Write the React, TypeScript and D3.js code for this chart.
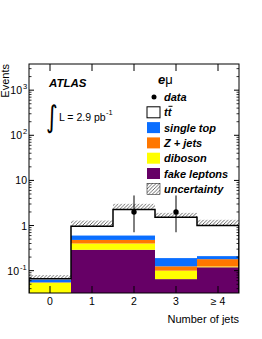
import * as d3 from "d3";
import React from "react";

// jet multiplicity bins
const categories = ["0", "1", "2", "3", "≥ 4"];

// stacked expectations, bottom to top
const fakeLeptons = [0, 0.29, 0.29, 0.065, 0.119];
const diboson = [0.054, 0.11, 0.11, 0.035, 0.005];
const zJets = [0.001, 0.08, 0.08, 0.025, 0.056];
const singleTop = [0.008, 0.12, 0.12, 0.065, 0.03];
const ttbar = [0.003, 0.36, 1.67, 1.34, 0.79];
const uncertainty = [0.014, 0.33, 0.76, 0.38, 0.34];

// observed events and error bar ends
const dataCounts = [0, 0, 2, 2, 0];
const dataLow = [0, 0, 0.71, 0.71, 0];
const dataHigh = [0, 0, 4.64, 4.64, 0];

const yTicks = [0.1, 1, 10, 100, 1000];
const yTickLabels = [["10", "-1"], ["1", ""], ["10", ""], ["10", "2"], ["10", "3"]];

const colors = {
  fake: "#660066",
  diboson: "#ffff00",
  zjets: "#ff7700",
  single: "#0a6eff",
};

const legendItems = [
  { key: "data", label: "data" },
  { key: "tt", label: "tt" },
  { key: "single", label: "single top" },
  { key: "zjets", label: "Z + jets" },
  { key: "diboson", label: "diboson" },
  { key: "fake", label: "fake leptons" },
  { key: "unc", label: "uncertainty" },
];

const W = 262;
const H = 339;
const margin = { top: 64, left: 29, bottom: 46, right: 23 };
const font = "'Liberation Sans', Arial, Helvetica, sans-serif";

export default function App() {
  const x = d3.scaleLinear().domain([-0.5, 4.5]).range([margin.left, W - margin.right]);
  const y = d3.scaleLog().domain([0.032, 3800]).range([H - margin.bottom, margin.top]);
  const bottom = H - margin.bottom;
  const top = margin.top;
  const left = margin.left;
  const right = W - margin.right;

  const layers = [
    { key: "fake", vals: fakeLeptons },
    { key: "diboson", vals: diboson },
    { key: "zjets", vals: zJets },
    { key: "single", vals: singleTop },
  ];
  const cum: number[][] = [];
  let run = categories.map(() => 0);
  layers.forEach((l) => {
    run = run.map((v, i) => v + l.vals[i]);
    cum.push(run.slice());
  });
  const total = run.map((v, i) => v + ttbar[i]);

  const yc = (v: number) => (v <= 0 ? bottom : Math.min(bottom, y(v)));

  const stepPts: [number, number][] = [];
  categories.forEach((_, i) => {
    stepPts.push([x(i - 0.5), yc(total[i])]);
    stepPts.push([x(i + 0.5), yc(total[i])]);
  });
  const step = d3.line()(stepPts) as string;
  const ttArea = `M${x(-0.5)},${bottom}L${step.slice(1)}L${x(4.5)},${bottom}Z`;

  const minor: number[] = [];
  for (let e = -2; e <= 3; e++) for (let k = 2; k <= 9; k++) {
    const v = k * Math.pow(10, e);
    if (v > 0.032 && v < 3800) minor.push(v);
  }

  const legX = 147;
  const legY0 = 97;
  const legDy = 15.3;

  return (
    <svg width={W} height={H} style={{ position: "absolute", left: 0, top: 0, background: "#fff" }} fontFamily={font}>
      <defs>
        <pattern id="hatch" patternUnits="userSpaceOnUse" width="3.5" height="3.5">
          <path d="M-1,1 l2,-2 M0,3.5 l3.5,-3.5 M2.5,4.5 l2,-2" stroke="#444" strokeWidth="0.8" />
        </pattern>
        <clipPath id="frame"><rect x={left} y={top} width={right - left} height={bottom - top} /></clipPath>
      </defs>

      <g clipPath="url(#frame)">
        <path d={ttArea} fill="#fff" />
        {layers.map((l, li) => (
          <g key={l.key}>
            {categories.map((c, i) => {
              const lo = li === 0 ? 0 : cum[li - 1][i];
              const hi = cum[li][i];
              if (hi <= lo) return null;
              return (
                <rect key={c} x={x(i - 0.5)} width={x(i + 0.5) - x(i - 0.5)}
                  y={yc(hi)} height={yc(lo) - yc(hi)} fill={(colors as any)[l.key]} />
              );
            })}
          </g>
        ))}
        {categories.map((c, i) => (
          <rect key={c} x={x(i - 0.5)} width={x(i + 0.5) - x(i - 0.5)}
            y={yc(total[i] + uncertainty[i])} height={yc(total[i]) - yc(total[i] + uncertainty[i])}
            fill="url(#hatch)" />
        ))}
        <path d={`M${x(-0.5)},${bottom}L${step.slice(1)}L${x(4.5)},${bottom}`} fill="none" stroke="#000" strokeWidth="1.5" />
      </g>

      {/* data */}
      {dataCounts.map((n, i) => n > 0 ? (
        <g key={i}>
          <line x1={x(i)} x2={x(i)} y1={y(dataHigh[i])} y2={y(dataLow[i])} stroke="#000" strokeWidth="1" />
          <circle cx={x(i)} cy={y(n)} r="2.7" fill="#000" />
        </g>
      ) : null)}

      {/* frame and ticks */}
      <rect x={left} y={top} width={right - left} height={bottom - top} fill="none" stroke="#000" strokeWidth="1" />
      {categories.map((c, i) => (
        <g key={c}>
          <line x1={x(i)} x2={x(i)} y1={bottom} y2={bottom - 7} stroke="#000" />
          <line x1={x(i)} x2={x(i)} y1={top} y2={top + 7} stroke="#000" />
          <text x={x(i)} y={305} textAnchor="middle" fontSize="10.5">{c}</text>
        </g>
      ))}
      {yTicks.map((t, i) => (
        <g key={t}>
          <line x1={left} x2={left + 5} y1={y(t)} y2={y(t)} stroke="#000" />
          <line x1={right} x2={right - 5} y1={y(t)} y2={y(t)} stroke="#000" />
          <text x={yTickLabels[i][1] ? 27 - (yTickLabels[i][1].length > 1 ? 8 : 5) : 27} y={y(t) + 4} textAnchor="end" fontSize="10.5">{yTickLabels[i][0]}</text>
          {yTickLabels[i][1] && (
            <text x={yTickLabels[i][1].length > 1 ? 20 : 23} y={y(t) - 1} fontSize="7.5">{yTickLabels[i][1]}</text>
          )}
        </g>
      ))}
      {minor.map((t) => (
        <g key={t}>
          <line x1={left} x2={left + 2.5} y1={y(t)} y2={y(t)} stroke="#000" strokeWidth="0.8" />
          <line x1={right} x2={right - 2.5} y1={y(t)} y2={y(t)} stroke="#000" strokeWidth="0.8" />
        </g>
      ))}

      <text transform={`translate(9,${top}) rotate(-90)`} textAnchor="end" fontSize="11">Events</text>
      <text x={right} y={323} textAnchor="end" fontSize="11">Number of jets</text>

      {/* labels */}
      <text x={49} y={87} fontSize="11.5" fontWeight="bold" fontStyle="italic">ATLAS</text>
      <text x={46} y={127} fontSize="30" fontFamily="'DejaVu Sans'" transform="translate(46,127) scale(0.75,1) translate(-46,-127)">∫</text>
      <text x={59} y={121} fontSize="10.5">L = 2.9 pb</text>
      <text x={106} y={115} fontSize="7.5">-1</text>
      <text x={158} y={84} fontSize="13" fontWeight="bold" fontStyle="italic">e<tspan fontStyle="normal" fontWeight="normal">μ</tspan></text>

      {legendItems.map((d, i) => {
        const cy = legY0 + i * legDy;
        return (
          <g key={d.key}>
            {d.key === "data" ? (
              <circle cx={legX + 7} cy={cy} r="2.5" fill="#000" />
            ) : (
              <rect x={legX} y={cy - 5.5} width={13} height={11}
                fill={d.key === "tt" ? "#fff" : d.key === "unc" ? "url(#hatch)" : (colors as any)[d.key]}
                stroke={d.key === "tt" || d.key === "unc" ? "#000" : "none"} strokeWidth={d.key === "tt" ? 1 : 0.5} />
            )}
            <text x={164} y={cy + 4} fontSize="11" fontWeight="bold" fontStyle="italic">{d.label}</text>
            {d.key === "tt" && <line x1={168.5} x2={172.5} y1={cy - 6} y2={cy - 6} stroke="#000" strokeWidth="1" />}
          </g>
        );
      })}
    </svg>
  );
}
